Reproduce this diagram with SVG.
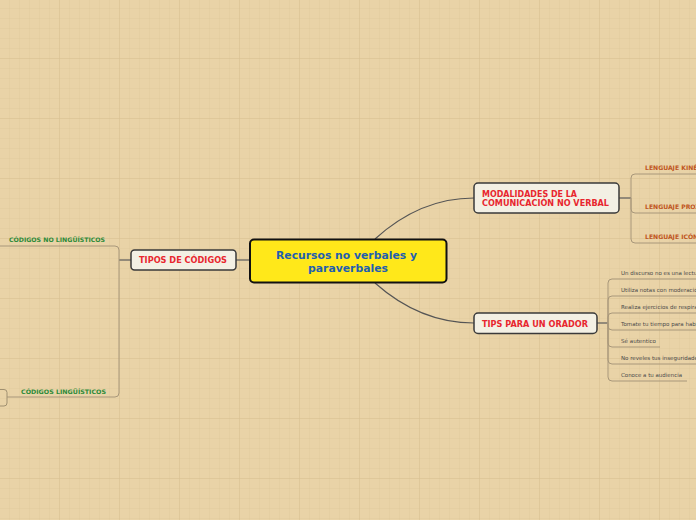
<svg xmlns="http://www.w3.org/2000/svg" width="696" height="520" viewBox="0 0 696 520">
<defs>
<pattern id="minor" x="0" y="-1" width="10" height="10" patternUnits="userSpaceOnUse">
<path d="M10 0V10M0 10H10" fill="none" stroke="#E1CA9D" stroke-width="1"/>
</pattern>
<pattern id="major" x="0" y="-1" width="60" height="60" patternUnits="userSpaceOnUse">
<path d="M60 0V60M0 60H60" fill="none" stroke="#D9C193" stroke-width="1"/>
</pattern>
<style>
.node{fill:#F3F0E4;stroke:#3A3A3A;stroke-width:1.5}
.ttl{font-family:"DejaVu Sans",Verdana,sans-serif;font-weight:bold;font-size:8px;fill:#E8262E}
.main{font-family:"DejaVu Sans",Verdana,sans-serif;font-weight:bold;font-size:10.8px;fill:#1F5FAF}
.lang{font-family:"DejaVu Sans",Verdana,sans-serif;font-weight:bold;font-size:6.1px;fill:#C0561E}
.cod{font-family:"DejaVu Sans",Verdana,sans-serif;font-weight:bold;font-size:6.2px;fill:#2E8B3A}
.tip{font-family:"DejaVu Sans",Verdana,sans-serif;font-size:5.5px;fill:#4A4A4A}
.curve{fill:none;stroke:#555;stroke-width:1.2}
.stem{fill:none;stroke:#5A5A5A;stroke-width:1.2}
.br{fill:none;stroke:#A8977A;stroke-width:1}
</style>
</defs>
<rect width="696" height="520" fill="#E9D3A7"/>
<rect width="696" height="520" fill="url(#minor)"/>
<rect width="696" height="520" fill="url(#major)"/>

<g id="connectors">
<path class="curve" d="M375 239 Q420 198 474 198"/>
<path class="curve" d="M375 283 Q420 323 474 323"/>
<path class="stem" d="M250 260H236"/>
<path class="stem" d="M619 198H631"/>
<path class="stem" d="M597 323H608"/>
<path class="stem" d="M131 260H119"/>
<path class="br" d="M631 198V178Q631 174 635 174H696"/>
<path class="br" d="M631 198V209Q631 213 635 213H696"/>
<path class="br" d="M631 198V239Q631 243 635 243H696"/>
<path class="br" d="M608 323V283Q608 279 612 279H696"/>
<path class="br" d="M608 323V300Q608 296 612 296H696"/>
<path class="br" d="M608 323V317Q608 313 612 313H696"/>
<path class="br" d="M608 323V326Q608 330 612 330H696"/>
<path class="br" d="M608 323V343Q608 347 612 347H660"/>
<path class="br" d="M608 323V360Q608 364 612 364H696"/>
<path class="br" d="M608 323V377Q608 381 612 381H687"/>
<path class="br" d="M119 260V250Q119 246 115 246H0"/>
<path class="br" d="M119 260V393Q119 397 115 397H7"/>
</g>

<g id="central">
<rect x="250" y="239.5" width="196.5" height="43" rx="4" fill="#FFE81A" stroke="#111" stroke-width="2"/>
<text class="main" x="276" y="259.3" textLength="141" lengthAdjust="spacingAndGlyphs">Recursos no verbales y</text>
<text class="main" x="308" y="272.3" textLength="80" lengthAdjust="spacingAndGlyphs">paraverbales</text>
</g>

<g id="modalidades">
<rect class="node" x="474" y="183" width="145" height="30" rx="4"/>
<text class="ttl" x="482" y="196.7" textLength="95" lengthAdjust="spacingAndGlyphs">MODALIDADES DE LA</text>
<text class="ttl" x="482" y="206" textLength="127" lengthAdjust="spacingAndGlyphs">COMUNICACIÓN NO VERBAL</text>
</g>

<g id="tips">
<rect class="node" x="474" y="313" width="123" height="20.5" rx="4"/>
<text class="ttl" x="482" y="326.7" textLength="106" lengthAdjust="spacingAndGlyphs">TIPS PARA UN ORADOR</text>
</g>

<g id="tipos">
<rect class="node" x="131" y="250" width="105" height="20" rx="3.5"/>
<text class="ttl" x="139" y="263" textLength="88" lengthAdjust="spacingAndGlyphs">TIPOS DE CÓDIGOS</text>
</g>

<g id="lenguaje-kinesico"><text class="lang" x="645" y="170">LENGUAJE KINÉSICO</text></g>
<g id="lenguaje-proxemico"><text class="lang" x="645" y="209">LENGUAJE PROXÉMICO</text></g>
<g id="lenguaje-iconico"><text class="lang" x="645" y="239">LENGUAJE ICÓNICO</text></g>

<g id="tip1"><text class="tip" x="621" y="275">Un discurso no es una lectura</text></g>
<g id="tip2"><text class="tip" x="621" y="292">Utiliza notas con moderación</text></g>
<g id="tip3"><text class="tip" x="621" y="309">Realiza ejercicios de respiración</text></g>
<g id="tip4"><text class="tip" x="621" y="326">Tomate tu tiempo para hablar</text></g>
<g id="tip5"><text class="tip" x="621" y="343" textLength="35" lengthAdjust="spacingAndGlyphs">Sé autentico</text></g>
<g id="tip6"><text class="tip" x="621" y="360">No reveles tus inseguridades</text></g>
<g id="tip7"><text class="tip" x="621" y="377" textLength="61" lengthAdjust="spacingAndGlyphs">Conoce a tu audiencia</text></g>

<g id="no-linguisticos"><text class="cod" x="9" y="242" textLength="96" lengthAdjust="spacingAndGlyphs">CÓDIGOS NO LINGÜÍSTICOS</text></g>
<g id="linguisticos"><text class="cod" x="21" y="394" textLength="85" lengthAdjust="spacingAndGlyphs">CÓDIGOS LINGÜÍSTICOS</text></g>
<g id="offscreen-node"><rect x="-10" y="389.5" width="17" height="16.5" rx="3" fill="none" stroke="#A09070" stroke-width="1"/></g>
</svg>
